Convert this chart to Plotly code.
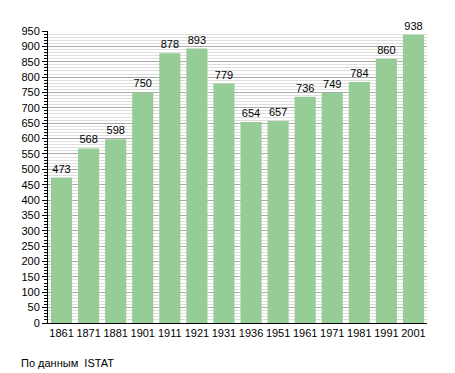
import plotly.graph_objects as go

years = ["1861", "1871", "1881", "1901", "1911", "1921", "1931", "1936", "1951", "1961", "1971", "1981", "1991", "2001"]
population = [473, 568, 598, 750, 878, 893, 779, 654, 657, 736, 749, 784, 860, 938]
y_ticks = list(range(0, 951, 50))

fig = go.Figure(go.Bar(
    x=years, y=population,
    marker=dict(color="rgb(150,205,150)", line=dict(width=0)),
    text=[str(v) for v in population], textposition="outside",
    textfont=dict(family="Liberation Sans, Arial", size=11, color="black"),
    cliponaxis=False,
))

fig.update_layout(
    width=447, height=365,
    margin=dict(l=40, r=28, t=23, b=50, autoexpand=False),
    paper_bgcolor="white", plot_bgcolor="white",
    bargap=0.22, showlegend=False,
    font=dict(family="Liberation Sans, Arial", size=11, color="black"),
    xaxis=dict(type="category", showline=True, linecolor="black", linewidth=1,
               ticks="", showgrid=False, tickfont=dict(size=11), automargin=False),
    yaxis=dict(range=[0, 950], tickvals=y_ticks, showline=True, linecolor="black", linewidth=1,
               ticks="outside", ticklen=5, tickcolor="black",
               showgrid=True, gridcolor="rgb(170,170,170)", gridwidth=1,
               zeroline=False, tickfont=dict(size=11), automargin=False,
               minor=dict(dtick=10, ticks="outside", ticklen=3, tickcolor="black",
                          showgrid=True, gridcolor="rgb(222,222,222)", gridwidth=1)),
    annotations=[dict(text="По данным  ISTAT", xref="paper", yref="paper",
                      x=0, y=0, xanchor="left", yanchor="top", showarrow=False,
                      xshift=-29, yshift=-32, font=dict(size=11, color="black"))],
)

fig.write_html("out.html")
